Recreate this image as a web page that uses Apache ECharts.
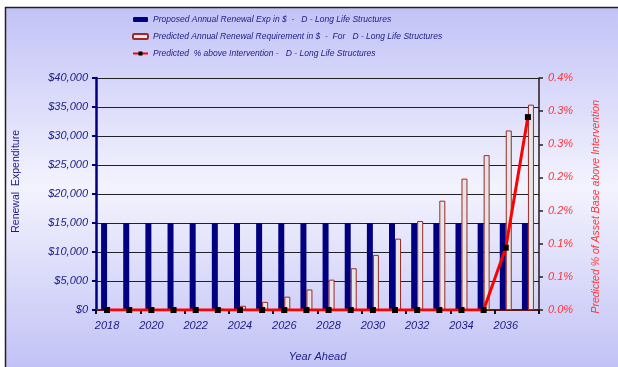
<!DOCTYPE html>
<html>
<head>
<meta charset="utf-8">
<script src="https://cdn.jsdelivr.net/npm/echarts@6/dist/echarts.min.js"></script>
<style>html,body{margin:0;padding:0;background:#fff}#c{width:618px;height:367px}</style>
</head>
<body>
<div id="c"></div>
<script>
const years = ['2018','2019','2020','2021','2022','2023','2024','2025','2026','2027','2028','2029','2030','2031','2032','2033','2034','2035','2036','2037'];
const proposed = [15000,15000,15000,15000,15000,15000,15000,15000,15000,15000,15000,15000,15000,15000,15000,15000,15000,15000,15000,15000];
const predicted = [0,0,0,0,0,250,730,1400,2300,3540,5230,7200,9500,12300,15350,18850,22650,26700,30950,35400];
const pctAbove = [0,0,0,0,0,0,0,0,0,0,0,0,0,0,0,0,0,0,0.094,0.291];
const seriesNames = [
  'Proposed Annual Renewal Exp in $  -   D - Long Life Structures',
  'Predicted Annual Renewal Requirement in $  -  For   D - Long Life Structures',
  'Predicted  % above Intervention -   D - Long Life Structures'
];

const FONT = 'Liberation Sans, Arial, sans-serif';
const NAVY = '#1c1c88';
const RED = '#ff3333';

const chart = echarts.init(document.getElementById('c'), null, {renderer: 'canvas'});
chart.setOption({
  backgroundColor: '#ffffff',
  animation: false,
  graphic: [
    {type: 'rect', z: -10, silent: true,
     shape: {x: 5, y: 7, width: 613, height: 360},
     style: {fill: new echarts.graphic.LinearGradient(0, 0, 0, 1, [
       {offset: 0, color: '#c2c2f7'},
       {offset: 0.5, color: '#f3f3fe'},
       {offset: 1, color: '#c2c2f6'}
     ])}},
    {type: 'polyline', z: -9, silent: true,
     shape: {points: [[5.5, 367], [5.5, 7.5], [618, 7.5]]},
     style: {stroke: '#222', lineWidth: 1.5, fill: null}},
    {type: 'text', left: 11, top: 130, rotation: Math.PI / 2, silent: true,
     style: {text: 'Renewal  Expenditure', fill: NAVY, font: '10.5px ' + FONT}},
    {type: 'text', left: 591, top: 100, rotation: Math.PI / 2, silent: true,
     style: {text: 'Predicted % of Asset Base above Intervention', fill: RED, font: 'italic 10.5px ' + FONT}}
  ],
  legend: {
    orient: 'vertical', left: 132, top: 15, padding: 0,
    itemWidth: 15, itemHeight: 5, itemGap: 8,
    textStyle: {color: NAVY, fontStyle: 'italic', fontSize: 8.5, fontFamily: FONT},
    data: seriesNames
  },
  grid: {left: 96, right: 79, top: 78, bottom: 53},
  xAxis: [{
    type: 'category', data: years,
    name: 'Year Ahead', nameLocation: 'middle', nameGap: 41,
    nameTextStyle: {color: NAVY, fontStyle: 'italic', fontSize: 11, fontFamily: FONT},
    axisLine: {lineStyle: {color: '#111', width: 2}},
    axisTick: {show: true, length: 4, inside: false, lineStyle: {color: '#111', width: 2}},
    axisLabel: {interval: 1, color: NAVY, fontStyle: 'italic', fontSize: 11, fontFamily: FONT, margin: 10},
    splitLine: {show: false}
  }, {
    type: 'category', data: years, position: 'top',
    axisLine: {lineStyle: {color: '#7a1a1a', width: 1.5}},
    axisTick: {show: false}, axisLabel: {show: false}
  }],
  yAxis: [{
    type: 'value', min: 0, max: 40000, interval: 5000,
    axisLine: {show: true, lineStyle: {color: '#000080', width: 2.5}},
    axisTick: {show: true, length: 4, lineStyle: {color: '#000080', width: 2}},
    axisLabel: {color: NAVY, fontStyle: 'italic', fontSize: 11, fontFamily: FONT, margin: 8,
      formatter: v => '$' + v.toLocaleString('en-US')},
    splitLine: {show: true, lineStyle: {color: '#222', width: 1}}
  }, {
    type: 'value', min: 0, max: 0.35, interval: 0.05, position: 'right',
    axisLine: {show: true, lineStyle: {color: '#2a1a1a', width: 1.5}},
    axisTick: {show: true, length: 4, lineStyle: {color: '#222', width: 1.5}},
    axisLabel: {color: RED, fontStyle: 'italic', fontSize: 11, fontFamily: FONT, margin: 9,
      formatter: v => (Math.round(v * 10 + 1e-9) / 10).toFixed(1) + '%'},
    splitLine: {show: false}
  }],
  series: [{
    name: seriesNames[0], type: 'bar', data: proposed,
    barWidth: 6, barGap: '0%',
    itemStyle: {color: '#000080'}
  }, {
    name: seriesNames[1], type: 'bar', data: predicted,
    barWidth: 6, barGap: '0%',
    itemStyle: {color: '#e6e6e6', borderColor: '#9b2a2a', borderWidth: 1}
  }, {
    name: seriesNames[2], type: 'line', data: pctAbove, yAxisIndex: 1,
    symbol: 'rect', symbolSize: 6, z: 5,
    lineStyle: {color: '#ff0000', width: 3},
    itemStyle: {color: '#000000'}
  }]
});
</script>
</body>
</html>
